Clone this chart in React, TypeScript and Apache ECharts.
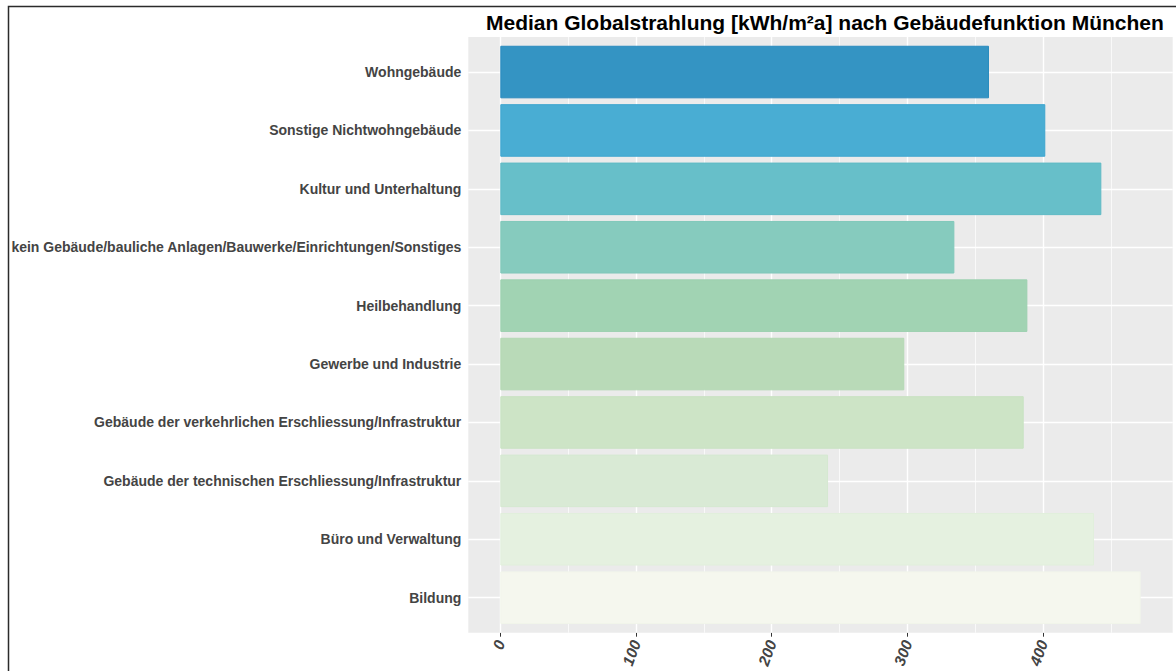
import React, { useEffect, useRef } from "react";
import * as echarts from "echarts";

const chartTitle = "Median Globalstrahlung [kWh/m²a] nach Gebäudefunktion München";

const categories = [
  "Wohngebäude",
  "Sonstige Nichtwohngebäude",
  "Kultur und Unterhaltung",
  "kein Gebäude/bauliche Anlagen/Bauwerke/Einrichtungen/Sonstiges",
  "Heilbehandlung",
  "Gewerbe und Industrie",
  "Gebäude der verkehrlichen Erschliessung/Infrastruktur",
  "Gebäude der technischen Erschliessung/Infrastruktur",
  "Büro und Verwaltung",
  "Bildung",
];

const values = [360.1, 401.6, 442.9, 334.6, 388.4, 297.7, 385.7, 241.5, 437.5, 471.9];

const majorTicks = [0, 100, 200, 300, 400];
const minorTicks = [50, 150, 250, 350, 450];

const barFill = [
  "#3494C3",
  "#49ADD3",
  "#67BFC9",
  "#86CBBE",
  "#A1D3B3",
  "#B9DAB8",
  "#CDE4C6",
  "#D9EAD5",
  "#E5F1E0",
  "#F5F7EE",
];
const barEdge = [
  "#2A8BBE",
  "#3DA5CF",
  "#5FBAC5",
  "#80C8BA",
  "#9CD0AF",
  "#B4D8B4",
  "#C8E2C2",
  "#D5E8D1",
  "#E1EFDC",
  "#F1F5EA",
];

const PANEL_LEFT = 468.3;
const PANEL_RIGHT = 3.3;
const PANEL_TOP = 37;
const PANEL_BOTTOM = 38.3;

export default function App() {
  const ref = useRef<HTMLDivElement>(null);

  useEffect(() => {
    if (!ref.current) return;
    const chart = echarts.init(ref.current, undefined, { renderer: "svg" });

    const dataMax = Math.max(...values);
    const xMin = -0.05 * dataMax;
    const xMax = dataMax * 1.05;
    const panelH = 671 - PANEL_TOP - PANEL_BOTTOM;
    const unit = panelH / (categories.length + 0.2);
    const inset = unit * 0.1;

    const option: any = {
      animation: false,
      backgroundColor: "#ffffff",
      title: {
        text: chartTitle,
        left: 481,
        top: 7,
        textStyle: {
          fontFamily: "Liberation Sans, Arial, sans-serif",
          fontSize: 21,
          fontWeight: "bold",
          color: "#000000",
        },
      },
      graphic: [
        {
          type: "rect",
          shape: { x: 8.5, y: 6.5, width: 1200, height: 700 },
          style: { fill: "none", stroke: "#2b2b2b", lineWidth: 1.5 },
          silent: true,
          z: 100,
        },
      ],
      grid: [
        {
          left: PANEL_LEFT,
          right: PANEL_RIGHT,
          top: PANEL_TOP,
          bottom: PANEL_BOTTOM,
          show: true,
          backgroundColor: "#EBEBEB",
          borderWidth: 0,
        },
        {
          left: PANEL_LEFT,
          right: PANEL_RIGHT,
          top: PANEL_TOP + inset,
          bottom: PANEL_BOTTOM + inset,
        },
      ],
      xAxis: [
        {
          gridIndex: 0,
          type: "value",
          min: xMin,
          max: xMax,
          axisLine: { show: false },
          splitLine: { show: false },
          axisTick: {
            show: true,
            customValues: majorTicks,
            length: 4,
            lineStyle: { color: "#333333", width: 1 },
          },
          axisLabel: {
            customValues: majorTicks,
            rotate: 70,
            margin: 8,
            fontFamily: "Liberation Sans, Arial, sans-serif",
            fontSize: 15.5,
            fontStyle: "italic",
            fontWeight: "bold",
            color: "#444444",
          },
        },
        {
          gridIndex: 1,
          type: "value",
          min: xMin,
          max: xMax,
          show: false,
          splitLine: { show: false },
        },
      ],
      yAxis: [
        {
          gridIndex: 0,
          type: "value",
          min: 0,
          max: 1,
          show: false,
          splitLine: { show: false },
        },
        {
          gridIndex: 1,
          type: "category",
          data: categories,
          inverse: true,
          axisLine: { show: false },
          splitLine: { show: false },
          axisTick: {
            show: true,
            alignWithLabel: true,
            length: 4,
            lineStyle: { color: "#333333", width: 1 },
          },
          axisLabel: {
            margin: 7,
            fontFamily: "Liberation Sans, Arial, sans-serif",
            fontSize: 14,
            fontWeight: "bold",
            color: "#444444",
          },
        },
      ],
      series: [
        {
          type: "line",
          xAxisIndex: 0,
          yAxisIndex: 0,
          data: [],
          silent: true,
          markLine: {
            silent: true,
            symbol: "none",
            z: 1,
            label: { show: false },
            data: [
              ...minorTicks.map((v) => ({
                xAxis: v,
                lineStyle: { color: "#ffffff", width: 0.7, type: "solid" },
              })),
              ...majorTicks.map((v) => ({
                xAxis: v,
                lineStyle: { color: "#ffffff", width: 1.4, type: "solid" },
              })),
            ],
          },
        },
        {
          type: "bar",
          xAxisIndex: 1,
          yAxisIndex: 1,
          barWidth: "90%",
          z: 2,
          data: values.map((v, i) => ({
            value: v,
            itemStyle: { color: barFill[i], borderColor: barEdge[i], borderWidth: 1 },
          })),
          markLine: {
            silent: true,
            symbol: "none",
            z: 1,
            label: { show: false },
            data: categories.map((c) => ({
              yAxis: c,
              lineStyle: { color: "#ffffff", width: 1.4, type: "solid" },
            })),
          },
        },
      ],
    };

    chart.setOption(option);
    return () => chart.dispose();
  }, []);

  return (
    <div
      ref={ref}
      style={{ position: "fixed", left: 0, top: 0, width: 1176, height: 671, background: "#fff" }}
    />
  );
}
